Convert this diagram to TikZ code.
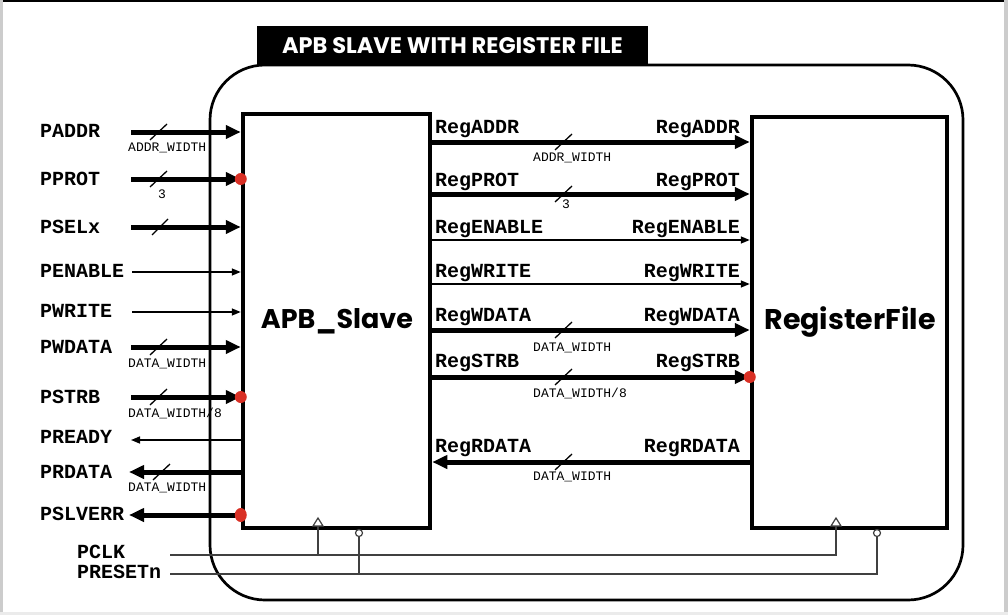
\documentclass[tikz,border=0pt]{standalone}
\usepackage{fontspec}
\setmonofont{Liberation Mono}
\newfontfamily\headfont{Poppins}
\usetikzlibrary{arrows.meta,shapes.geometric}
\definecolor{dotred}{HTML}{D93025}
\begin{document}
\begin{tikzpicture}[x=1pt,y=-1pt,
  lbl/.style={font=\ttfamily\bfseries\fontsize{20}{20}\selectfont, inner sep=0pt},
  small/.style={font=\ttfamily\fontsize{13}{13}\selectfont, inner sep=0pt},
  head/.style={font=\headfont\bfseries\fontsize{27}{27}\selectfont, inner sep=0pt},
  box/.style={draw, line width=4.5pt, inner sep=0pt},
  bus/.style={line width=5pt, -{Triangle[length=15pt,width=13pt]}},
  wire/.style={line width=1.5pt, -{Triangle[length=9pt,width=7pt]}},
  slash/.style={line width=1.3pt},
  clk/.style={line width=1.2pt, draw=black!75},
  dotmark/.style={circle, fill=dotred, minimum size=12pt, inner sep=0pt}
]
\useasboundingbox (0,0) rectangle (1008,615);
% frame of the picture
\fill[black] (0,0) rectangle (1008,2.5);
\fill[black!20] (0,0) rectangle (2.5,615);
\fill[black!20] (1004,0) rectangle (1008,615);
\fill[black!8] (0,612) rectangle (1008,615);

% outer rounded frame
\draw[line width=2.7pt, rounded corners=55pt] (210,65) rectangle (963,600);
% title
\node[fill=black, minimum width=391pt, minimum height=40pt, inner sep=0pt,
      font=\headfont\bfseries\fontsize{22.5}{22.5}\selectfont, text=white] (title) at (452.5,46) {APB SLAVE WITH REGISTER FILE};

% blocks
\node[box, minimum width=187pt, minimum height=414pt] (apb) at (336.5,321) {};
\node[head] (apbl) at (337,321) {APB\_Slave};
\node[box, minimum width=195pt, minimum height=411pt] (rf) at (849.5,322.5) {};
\node[head, font=\headfont\bfseries\fontsize{28.5}{28.5}\selectfont] (rfl) at (850,322) {RegisterFile};

% ---------- left side signals
\node[lbl, anchor=base west] (paddr) at (40,137) {PADDR};
\node[lbl, anchor=base west] (pprot) at (40,185) {PPROT};
\node[lbl, anchor=base west] (psel) at (40,233) {PSELx};
\node[lbl, anchor=base west] (penable) at (40,277) {PENABLE};
\node[lbl, anchor=base west] (pwrite) at (40,317) {PWRITE};
\node[lbl, anchor=base west] (pwdata) at (40,353) {PWDATA};
\node[lbl, anchor=base west] (pstrb) at (40,403) {PSTRB};
\node[lbl, anchor=base west] (pready) at (40,443) {PREADY};
\node[lbl, anchor=base west] (prdata) at (40,478) {PRDATA};
\node[lbl, anchor=base west] (pslverr) at (40,520) {PSLVERR};
\node[lbl, anchor=base west] (pclk) at (77,558) {PCLK};
\node[lbl, anchor=base west] (preset) at (77,578) {PRESETn};

\coordinate (c-paddr) at (131,132);
\coordinate (c-pprot) at (131,179);
\coordinate (c-psel) at (131,227);
\coordinate (c-penable) at (132,272);
\coordinate (c-pwrite) at (132,312);
\coordinate (c-pwdata) at (131,347);
\coordinate (c-pstrb) at (131,397);
\coordinate (c-pready) at (131,440);
\coordinate (c-prdata) at (129,472);
\coordinate (c-pslverr) at (129,515);

\draw[bus] (c-paddr) -- (c-paddr -| apb.west);
\draw[bus] (c-pprot) -- (c-pprot -| apb.west);
\draw[bus] (c-psel) -- (c-psel -| apb.west);
\draw[wire] (c-penable) -- (c-penable -| apb.west);
\draw[wire] (c-pwrite) -- (c-pwrite -| apb.west);
\draw[bus] (c-pwdata) -- (c-pwdata -| apb.west);
\draw[bus] (c-pstrb) -- (c-pstrb -| apb.west);
\draw[wire] (c-pready -| apb.west) -- (c-pready);
\draw[bus] (c-prdata -| apb.west) -- (c-prdata);
\draw[bus] (c-pslverr -| apb.west) -- (c-pslverr);

% bus slashes (left)
\draw[slash] (150,140) -- ++(17,-16);
\draw[slash] (150,187) -- ++(17,-16);
\draw[slash] (152,235) -- ++(16,-16);
\draw[slash] (150,355) -- ++(17,-16);
\draw[slash] (150,405) -- ++(17,-16);
\draw[slash] (153,480) -- ++(17,-16);

\node[small, anchor=base west] (w1) at (128,151) {ADDR\_WIDTH};
\node[small, anchor=base] (w2) at (162,198) {3};
\node[small, anchor=base west] (w3) at (128,367) {DATA\_WIDTH};
\node[small, anchor=base west] (w4) at (128,417) {DATA\_WIDTH/8};
\node[small, anchor=base west] (w5) at (128,491) {DATA\_WIDTH};

% red dots (left)
\node[dotmark] (d1) at (c-pprot -| apb.west) {};
\node[dotmark] (d2) at (c-pstrb -| apb.west) {};
\node[ellipse, fill=dotred, minimum width=12pt, minimum height=14pt, inner sep=0pt] (d3) at (c-pslverr -| apb.west) {};

% ---------- middle signals
\coordinate (r-addr) at (0,142);
\coordinate (r-prot) at (0,194);
\coordinate (r-en) at (0,240);
\coordinate (r-wr) at (0,284);
\coordinate (r-wd) at (0,330);
\coordinate (r-st) at (0,377);
\coordinate (r-rd) at (0,462);

\draw[bus] (apb.east |- r-addr) -- (rf.west |- r-addr);
\draw[bus] (apb.east |- r-prot) -- (rf.west |- r-prot);
\draw[wire] (apb.east |- r-en) -- (rf.west |- r-en);
\draw[wire] (apb.east |- r-wr) -- (rf.west |- r-wr);
\draw[bus] (apb.east |- r-wd) -- (rf.west |- r-wd);
\draw[bus] (apb.east |- r-st) -- (rf.west |- r-st);
\draw[bus] (rf.west |- r-rd) -- (apb.east |- r-rd);

\node[lbl, anchor=base west] (ml1) at (435,133) {RegADDR};
\node[lbl, anchor=base east] (mr1) at (740,133) {RegADDR};
\node[lbl, anchor=base west] (ml2) at (435,186) {RegPROT};
\node[lbl, anchor=base east] (mr2) at (740,186) {RegPROT};
\node[lbl, anchor=base west] (ml3) at (435,233) {RegENABLE};
\node[lbl, anchor=base east] (mr3) at (740,233) {RegENABLE};
\node[lbl, anchor=base west] (ml4) at (435,277) {RegWRITE};
\node[lbl, anchor=base east] (mr4) at (740,277) {RegWRITE};
\node[lbl, anchor=base west] (ml5) at (435,321) {RegWDATA};
\node[lbl, anchor=base east] (mr5) at (740,321) {RegWDATA};
\node[lbl, anchor=base west] (ml6) at (435,367) {RegSTRB};
\node[lbl, anchor=base east] (mr6) at (740,367) {RegSTRB};
\node[lbl, anchor=base west] (ml7) at (435,452) {RegRDATA};
\node[lbl, anchor=base east] (mr7) at (740,452) {RegRDATA};

\draw[slash] (555,150) -- ++(17,-16);
\draw[slash] (555,202) -- ++(17,-16);
\draw[slash] (555,338) -- ++(17,-16);
\draw[slash] (555,385) -- ++(17,-16);
\draw[slash] (555,470) -- ++(17,-16);

\node[small, anchor=base west] (mw1) at (533,161) {ADDR\_WIDTH};
\node[small, anchor=base] (mw2) at (566,208) {3};
\node[small, anchor=base west] (mw3) at (533,351) {DATA\_WIDTH};
\node[small, anchor=base west] (mw4) at (533,397) {DATA\_WIDTH/8};
\node[small, anchor=base west] (mw5) at (533,480) {DATA\_WIDTH};

\node[dotmark] (d4) at (rf.west |- r-st) {};

% ---------- clock and reset
\coordinate (k-clk) at (170,555);
\coordinate (k-rst) at (170,574);
% APB_Slave
\draw[clk, fill=white] (313,526) -- (318,518) -- (323,526) -- cycle;
\node[circle, draw=black!75, line width=1.2pt, fill=white, minimum size=7pt, inner sep=0pt] (apbrst) at (359,533) {};
\draw[clk] (318,526) -- (318,555);
\draw[clk] (apbrst.south) -- (359,574);
% RegisterFile
\draw[clk, fill=white] (831,526) -- (836,518) -- (841,526) -- cycle;
\node[circle, draw=black!75, line width=1.2pt, fill=white, minimum size=7pt, inner sep=0pt] (rfrst) at (877,533) {};
\draw[clk] (k-clk) -- (836,555) -- (836,526);
\draw[clk] (k-rst) -- (rfrst.south |- k-rst) -- (rfrst.south);
\end{tikzpicture}
\end{document}
